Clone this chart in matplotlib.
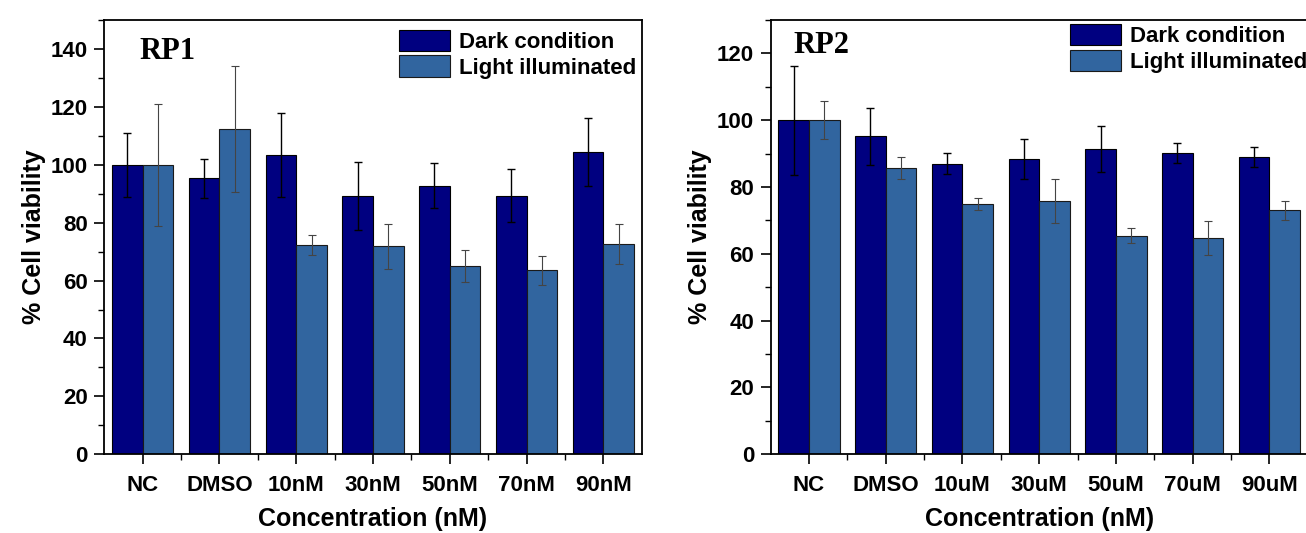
import matplotlib
matplotlib.use("Agg")
import matplotlib.pyplot as plt
import numpy as np
from matplotlib.ticker import MultipleLocator

plt.rcParams['font.family'] = ['Liberation Sans', 'DejaVu Sans']
plt.rcParams['font.weight'] = 'bold'

# ---- data ----
categories_rp1 = ["NC", "DMSO", "10nM", "30nM", "50nM", "70nM", "90nM"]
dark_rp1 = [100.0, 95.3, 103.3, 89.3, 92.8, 89.3, 104.5]
dark_err_rp1 = [11.0, 6.7, 14.6, 11.7, 7.8, 9.2, 11.7]
light_rp1 = [100.0, 112.3, 72.4, 71.8, 65.0, 63.5, 72.5]
light_err_rp1 = [21.0, 21.7, 3.4, 7.9, 5.4, 5.0, 6.9]

categories_rp2 = ["NC", "DMSO", "10uM", "30uM", "50uM", "70uM", "90uM"]
dark_rp2 = [100.0, 95.2, 87.0, 88.4, 91.4, 90.3, 89.0]
dark_err_rp2 = [16.3, 8.6, 3.1, 6.1, 6.9, 3.0, 2.9]
light_rp2 = [100.0, 85.7, 74.8, 75.9, 65.4, 64.8, 73.0]
light_err_rp2 = [5.7, 3.2, 1.8, 6.6, 2.2, 5.1, 2.8]

series_labels = ["Dark condition", "Light illuminated"]
panel_titles = ["RP1", "RP2"]
xlabel = "Concentration (nM)"
ylabel = "% Cell viability"

DARK = "#000080"
LIGHT = "#31659f"

W, H = 1306, 533
fig = plt.figure(figsize=(W / 100, H / 100), dpi=100)
fig.patch.set_facecolor("white")

def px_axes(left, right, top, bottom):
    return fig.add_axes([left / W, (H - bottom) / H, (right - left) / W, (bottom - top) / H])

ax1 = px_axes(104.3, 641.7, 20, 454.3)
ax2 = px_axes(770.7, 1307.7, 20, 454.3)

def draw(ax, cats, dark, derr, light, lerr, ymax, title, title_pos, leg_pos):
    x = np.arange(len(cats))
    w = 0.4
    ax.bar(x - w / 2, dark, w, color=DARK, edgecolor="black", linewidth=0.8,
           label=series_labels[0], zorder=2)
    ax.bar(x + w / 2, light, w, color=LIGHT, edgecolor="#1a1a1a", linewidth=0.8,
           label=series_labels[1], zorder=2)
    ax.errorbar(x - w / 2, dark, yerr=derr, fmt="none", ecolor="black",
                elinewidth=1.0, capsize=3.2, capthick=1.0, zorder=3)
    ax.errorbar(x + w / 2, light, yerr=lerr, fmt="none", ecolor="#444444",
                elinewidth=0.8, capsize=3.2, capthick=0.8, zorder=3)
    ax.set_xlim(-0.5, len(cats) - 0.5)
    ax.set_ylim(0, ymax)
    ax.set_xticks(x)
    ax.set_xticklabels(cats)
    ax.set_xticks(np.arange(len(cats) - 1) + 0.5, minor=True)
    ax.yaxis.set_major_locator(MultipleLocator(20))
    ax.yaxis.set_minor_locator(MultipleLocator(10))
    ax.tick_params(axis="both", which="major", direction="out", length=7, width=1.2,
                   labelsize=16)
    ax.tick_params(axis="both", which="minor", direction="out", length=4, width=1.0)
    ax.tick_params(axis="x", which="major", pad=8)
    ax.tick_params(axis="y", which="major", pad=5)
    for lab in ax.get_xticklabels() + ax.get_yticklabels():
        lab.set_fontweight("bold")
    for s in ax.spines.values():
        s.set_linewidth(1.3)
    ax.set_xlabel(xlabel, fontsize=18, fontweight="bold")
    ax.set_ylabel(ylabel, fontsize=18, fontweight="bold")
    ax.xaxis.set_label_coords(0.5, (454.3 - 519) / 434.3)
    ax.xaxis.label.set_va("center")
    ax.yaxis.set_label_coords((34 - 104.3) / 537.4, 0.5)
    ax.yaxis.label.set_va("center")
    ax.text(title_pos[0], title_pos[1], title, transform=ax.transAxes,
            family=["Liberation Serif", "DejaVu Serif"], fontweight="bold",
            fontsize=22, ha="left", va="center")
    leg = ax.legend(loc="upper left", bbox_to_anchor=leg_pos, frameon=False,
                    fontsize=16, handlelength=2.3, handleheight=1.1,
                    handletextpad=0.4, labelspacing=0.12, borderpad=0,
                    borderaxespad=0)
    for t in leg.get_texts():
        t.set_fontweight("bold")

draw(ax1, categories_rp1, dark_rp1, dark_err_rp1, light_rp1, light_err_rp1, 150,
     panel_titles[0], (0.066, 0.9275), (0.5484, 0.978))
draw(ax2, categories_rp2, dark_rp2, dark_err_rp2, light_rp2, light_err_rp2, 130,
     panel_titles[1], (0.0415, 0.9424), (0.5574, 0.9908))

fig.savefig("out.png", dpi=100, facecolor="white")
